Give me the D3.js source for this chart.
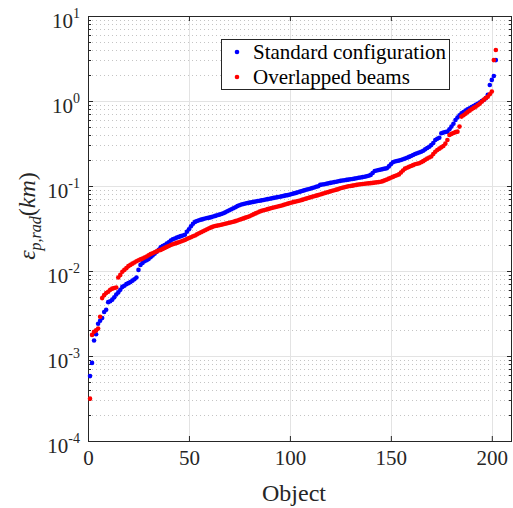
<!DOCTYPE html>
<html>
<head>
<meta charset="utf-8">
<script src="https://cdn.jsdelivr.net/npm/d3@7"></script>
<style>
  html, body { margin: 0; padding: 0; background: #fff; }
  svg { display: block; font-family: "Liberation Serif", "Times New Roman", serif; }
</style>
</head>
<body>
<svg id="chart" width="513" height="508"></svg>
<script>
// objects are numbered 1..N (km)
var standardVals = [
  0.00058, 0.00083, 0.00152, 0.0018, 0.0024, 0.0026, 0.0028, 0.0033, 0.0035, 0.0043,
  0.0044, 0.0046, 0.0049, 0.0053, 0.0056, 0.0060, 0.0065, 0.0067, 0.0070, 0.0072,
  0.0074, 0.0077, 0.0080, 0.0084, 0.0103, 0.0118, 0.0124, 0.0130, 0.0134, 0.0138,
  0.0145, 0.0152, 0.0160, 0.0168, 0.0178, 0.0190, 0.0197, 0.0202, 0.0210, 0.0218,
  0.0228, 0.0236, 0.0241, 0.0247, 0.0252, 0.0257, 0.0262, 0.0267, 0.0290, 0.0310,
  0.0335, 0.0360, 0.0378, 0.0388, 0.0395, 0.0402, 0.0408, 0.0414, 0.0420, 0.0424,
  0.0430, 0.0437, 0.0445, 0.0452, 0.0460, 0.0468, 0.0478, 0.0490, 0.0505, 0.0518,
  0.0532, 0.0548, 0.0563, 0.0580, 0.0594, 0.0605, 0.0614, 0.0622, 0.0630, 0.0637,
  0.0644, 0.0651, 0.0658, 0.0665, 0.0671, 0.0678, 0.0685, 0.0693, 0.0700, 0.0708,
  0.0716, 0.0724, 0.0732, 0.0740, 0.0748, 0.0756, 0.0765, 0.0775, 0.0782, 0.0792,
  0.0805, 0.0818, 0.0830, 0.0843, 0.0858, 0.0872, 0.0888, 0.0902, 0.0915, 0.0930,
  0.0946, 0.0962, 0.0980, 0.0995, 0.1030, 0.1040, 0.1050, 0.1062, 0.1075, 0.1088,
  0.1100, 0.1112, 0.1124, 0.1138, 0.1150, 0.1160, 0.1170, 0.1180, 0.1190, 0.1200,
  0.1210, 0.1222, 0.1234, 0.1248, 0.1260, 0.1272, 0.1285, 0.1300, 0.1318, 0.1350,
  0.1420, 0.1500, 0.1520, 0.1540, 0.1560, 0.1580, 0.1600, 0.1615, 0.1700, 0.1800,
  0.1900, 0.1940, 0.1970, 0.1990, 0.2020, 0.2060, 0.2100, 0.2150, 0.2200, 0.2250,
  0.2320, 0.2380, 0.2430, 0.2480, 0.2530, 0.2600, 0.2700, 0.2800, 0.2900, 0.3030,
  0.3200, 0.3480, 0.3600, 0.3700, 0.4170, 0.4250, 0.4320, 0.4360, 0.4650, 0.5000,
  0.5400, 0.5970, 0.6400, 0.6800, 0.7160, 0.7400, 0.7700, 0.8000, 0.8200, 0.8500,
  0.8700, 0.9000, 0.9300, 0.9600, 1.0000, 1.0300, 1.0800, 1.1800, 1.5400, 1.7700,
  1.9700, 3.0300
];

var overlapVals = [
  0.000315, 0.00177, 0.00193, 0.0020, 0.0021, 0.0029, 0.0048, 0.0052, 0.0055, 0.0057,
  0.0060, 0.0062, 0.0063, 0.0064, 0.0084, 0.0090, 0.0098, 0.0103, 0.0108, 0.0114,
  0.0118, 0.0122, 0.0126, 0.0130, 0.0134, 0.0137, 0.0140, 0.0144, 0.0148, 0.0153,
  0.0158, 0.0162, 0.0166, 0.0170, 0.0174, 0.0177, 0.0182, 0.0187, 0.0192, 0.0197,
  0.0202, 0.0206, 0.0210, 0.0214, 0.0218, 0.0222, 0.0227, 0.0232, 0.0238, 0.0244,
  0.0250, 0.0256, 0.0262, 0.0270, 0.0278, 0.0286, 0.0294, 0.0302, 0.0310, 0.0318,
  0.0326, 0.0333, 0.0338, 0.0342, 0.0346, 0.0350, 0.0355, 0.0360, 0.0365, 0.0370,
  0.0375, 0.0380, 0.0386, 0.0393, 0.0400, 0.0408, 0.0416, 0.0424, 0.0432, 0.0440,
  0.0452, 0.0464, 0.0476, 0.0488, 0.0500, 0.0510, 0.0518, 0.0526, 0.0534, 0.0542,
  0.0550, 0.0558, 0.0566, 0.0574, 0.0582, 0.0590, 0.0600, 0.0610, 0.0620, 0.0630,
  0.0640, 0.0650, 0.0658, 0.0666, 0.0675, 0.0686, 0.0698, 0.0710, 0.0722, 0.0734,
  0.0746, 0.0758, 0.0770, 0.0782, 0.0795, 0.0808, 0.0822, 0.0836, 0.0850, 0.0864,
  0.0878, 0.0892, 0.0906, 0.0920, 0.0940, 0.0955, 0.0968, 0.0980, 0.0992, 0.1000,
  0.1010, 0.1020, 0.1030, 0.1040, 0.1050, 0.1056, 0.1062, 0.1068, 0.1074, 0.1080,
  0.1088, 0.1096, 0.1104, 0.1112, 0.1120, 0.1140, 0.1165, 0.1190, 0.1220, 0.1250,
  0.1280, 0.1310, 0.1340, 0.1370, 0.1440, 0.1520, 0.1600, 0.1640, 0.1680, 0.1720,
  0.1760, 0.1800, 0.1830, 0.1850, 0.1900, 0.1960, 0.2030, 0.2100, 0.2160, 0.2220,
  0.2380, 0.2530, 0.2650, 0.2750, 0.2850, 0.2950, 0.3150, 0.3480, 0.3980, 0.4100,
  0.4200, 0.4300, 0.4360, 0.5000, 0.6550, 0.6800, 0.7100, 0.7400, 0.7700, 0.8000,
  0.8300, 0.8570, 0.8900, 0.9300, 0.9800, 1.0300, 1.0800, 1.1200, 1.2000, 1.2900,
  3.0300, 3.9800
];

var seriesNames = ['Standard configuration', 'Overlapped beams'];
var seriesColors = ['#0000ff', '#ff0000'];
var xTicks = [0, 50, 100, 150, 200];
var yExponents = [-4, -3, -2, -1, 0, 1];

var svg = d3.select('#chart');

var plotLeft = 88, plotRight = 512, plotTop = 16, plotBottom = 441;

var xScale = d3.scaleLinear().domain([0, 210]).range([plotLeft, plotRight]);
var yScale = d3.scaleLog().domain([1e-4, 10]).range([plotBottom, plotTop]);

// minor values 2..9 per decade
var minorVals = [];
yExponents.slice(0, -1).forEach(function (e) {
  for (var m = 2; m <= 9; m++) minorVals.push(m * Math.pow(10, e));
});

// grid
var grid = svg.append('g');
grid.selectAll('.minor-grid')
  .data(minorVals)
  .enter()
  .append('line')
  .attr('x1', plotLeft).attr('x2', plotRight)
  .attr('y1', function (d) { return Math.round(yScale(d)) + 0.5; })
  .attr('y2', function (d) { return Math.round(yScale(d)) + 0.5; })
  .style('stroke', '#c4c4c4')
  .style('stroke-width', 1)
  .style('stroke-dasharray', '1,3');

grid.selectAll('.major-y')
  .data(yExponents.slice(1, -1))
  .enter()
  .append('line')
  .attr('x1', plotLeft).attr('x2', plotRight)
  .attr('y1', function (d) { return Math.round(yScale(Math.pow(10, d))) + 0.5; })
  .attr('y2', function (d) { return Math.round(yScale(Math.pow(10, d))) + 0.5; })
  .style('stroke', '#e3e3e3')
  .style('stroke-width', 1);

grid.selectAll('.major-x')
  .data(xTicks.slice(1))
  .enter()
  .append('line')
  .attr('y1', plotTop).attr('y2', plotBottom)
  .attr('x1', function (d) { return Math.round(xScale(d)) + 0.5; })
  .attr('x2', function (d) { return Math.round(xScale(d)) + 0.5; })
  .style('stroke', '#e3e3e3')
  .style('stroke-width', 1);

// axes (ticks point inward)
var axisColor = '#262626';

var xAxis = svg.append('g')
  .attr('transform', 'translate(0,' + plotBottom + ')')
  .call(d3.axisBottom(xScale).tickValues(xTicks).tickSizeInner(-5).tickSizeOuter(0).tickPadding(9));
xAxis.select('.domain').remove();

var xAxisTop = svg.append('g')
  .attr('transform', 'translate(0,' + plotTop + ')')
  .call(d3.axisTop(xScale).tickValues(xTicks).tickSizeInner(-5).tickSizeOuter(0).tickFormat(''));
xAxisTop.select('.domain').remove();

var yAxis = svg.append('g')
  .attr('transform', 'translate(' + plotLeft + ',0)')
  .call(d3.axisLeft(yScale)
    .tickValues(yExponents.map(function (e) { return Math.pow(10, e); }))
    .tickSizeInner(-5).tickSizeOuter(0).tickPadding(8).tickFormat(''));
yAxis.select('.domain').remove();

var yAxisRight = svg.append('g')
  .attr('transform', 'translate(' + plotRight + ',0)')
  .call(d3.axisRight(yScale)
    .tickValues(yExponents.map(function (e) { return Math.pow(10, e); }))
    .tickSizeInner(-5).tickSizeOuter(0).tickFormat(''));
yAxisRight.select('.domain').remove();

// minor ticks on both sides
[plotLeft, plotRight].forEach(function (xx) {
  var dir = xx === plotLeft ? 1 : -1;
  svg.append('g').selectAll('line')
    .data(minorVals)
    .enter()
    .append('line')
    .attr('x1', xx).attr('x2', xx + dir * 3)
    .attr('y1', function (d) { return Math.round(yScale(d)) + 0.5; })
    .attr('y2', function (d) { return Math.round(yScale(d)) + 0.5; })
    .style('stroke', axisColor)
    .style('stroke-width', 1);
});

svg.selectAll('.tick line').style('stroke', axisColor);

// frame
svg.append('rect')
  .attr('x', plotLeft + 0.5).attr('y', plotTop + 0.5)
  .attr('width', plotRight - plotLeft - 1).attr('height', plotBottom - plotTop)
  .style('fill', 'none')
  .style('stroke', axisColor)
  .style('stroke-width', 1);

xAxis.selectAll('text')
  .style('font-family', '"Liberation Serif", serif')
  .style('font-size', '21px')
  .style('fill', axisColor);

// y tick labels 10^n
var yLab = svg.append('g').selectAll('text')
  .data(yExponents)
  .enter()
  .append('text')
  .attr('x', plotLeft - 8)
  .attr('y', function (d) { return yScale(Math.pow(10, d)) + 12; })
  .attr('text-anchor', 'end')
  .style('font-size', '21px')
  .style('fill', axisColor);
yLab.append('tspan').text('10');
yLab.append('tspan')
  .attr('dy', -10)
  .style('font-size', '14px')
  .text(function (d) { return d; });

// axis titles
svg.append('text')
  .attr('x', (plotLeft + plotRight) / 2 - 6)
  .attr('y', 501)
  .attr('text-anchor', 'middle')
  .style('font-size', '24px')
  .style('fill', axisColor)
  .text('Object');

var yTitle = svg.append('text')
  .attr('transform', 'translate(35,216) rotate(-90)')
  .attr('text-anchor', 'middle')
  .style('font-size', '24px')
  .style('fill', axisColor);
yTitle.append('tspan').style('font-style', 'italic').text('ε');
yTitle.append('tspan').attr('dy', 6).style('font-style', 'italic').style('font-size', '16px').text('p,rad');
yTitle.append('tspan').attr('dy', -6).text('(');
yTitle.append('tspan').style('font-style', 'italic').text('km');
yTitle.append('tspan').text(')');

// data points
var allSeries = [standardVals, overlapVals];
allSeries.forEach(function (vals, k) {
  svg.append('g')
    .selectAll('circle')
    .data(vals)
    .enter()
    .append('circle')
    .attr('cx', function (d, i) { return xScale(i + 1); })
    .attr('cy', function (d) { return yScale(d); })
    .attr('r', 2.3)
    .style('fill', seriesColors[k]);
});

// legend
var legend = svg.append('g');
legend.append('rect')
  .attr('x', 221.5).attr('y', 39.5)
  .attr('width', 228).attr('height', 50)
  .style('fill', '#fff')
  .style('stroke', axisColor)
  .style('stroke-width', 1);
seriesNames.forEach(function (name, k) {
  legend.append('circle')
    .attr('cx', 237).attr('cy', 52 + k * 25)
    .attr('r', 2.3)
    .style('fill', seriesColors[k]);
  legend.append('text')
    .attr('x', 253).attr('y', 59 + k * 25)
    .style('font-size', '21px')
    .style('fill', '#000')
    .text(name);
});
</script>
</body>
</html>
